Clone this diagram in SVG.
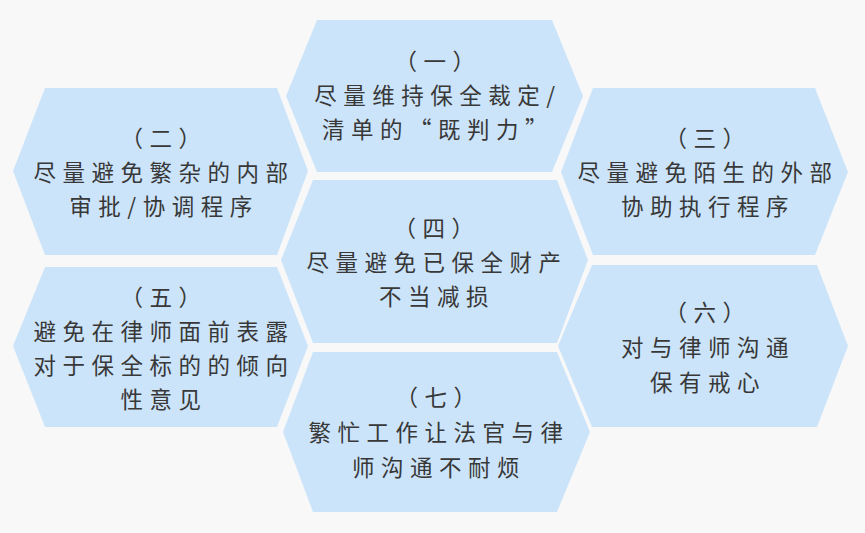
<svg xmlns="http://www.w3.org/2000/svg" width="865" height="533" viewBox="0 0 865 533">
<style>
.hex{fill:#cce4fa;}
.t{font-family:"Noto Sans CJK SC","Noto Sans",sans-serif;font-size:22.5px;fill:#383838;text-anchor:middle;letter-spacing:6.5px;}
</style>
<rect width="865" height="533" fill="#f8f8f8"/>
<g id="connectors"></g>
<g id="n1">
<polygon class="hex" points="317,20 552,20 583,96 552,172 317,172 286,96"/>
<text class="t" x="438" y="69.5">（一）</text>
<text class="t" x="438" y="103.5">尽量维持保全裁定/</text>
<text class="t" x="438" y="137.5">清单的“既判力”</text>
</g>
<g id="n2">
<polygon class="hex" points="45,88 277,88 308,171 277,255 45,255 13,171"/>
<text class="t" x="164" y="146.5">（二）</text>
<text class="t" x="164" y="180.5">尽量避免繁杂的内部</text>
<text class="t" x="164" y="214.5">审批/协调程序</text>
</g>
<g id="n3">
<polygon class="hex" points="593,88 815,88 848,172 815,255 593,255 561,172"/>
<text class="t" x="708" y="146.5">（三）</text>
<text class="t" x="708" y="180.5">尽量避免陌生的外部</text>
<text class="t" x="708" y="214.5">协助执行程序</text>
</g>
<g id="n4">
<polygon class="hex" points="313,180 557,180 588,260 557,343 313,343 281,260"/>
<text class="t" x="437" y="236.5">（四）</text>
<text class="t" x="437" y="270.5">尽量避免已保全财产</text>
<text class="t" x="437" y="304.5">不当减损</text>
</g>
<g id="n5">
<polygon class="hex" points="45,267 277,267 308,346 277,427 45,427 13,346"/>
<text class="t" x="164" y="305.5">（五）</text>
<text class="t" x="164" y="339.5">避免在律师面前表露</text>
<text class="t" x="164" y="373.5">对于保全标的的倾向</text>
<text class="t" x="164" y="407.5">性意见</text>
</g>
<g id="n6">
<polygon class="hex" points="592,265 817,265 848,346 817,427 592,427 558,346"/>
<text class="t" x="708" y="320.5">（六）</text>
<text class="t" x="708" y="355.5">对与律师沟通</text>
<text class="t" x="708" y="390.5">保有戒心</text>
</g>
<g id="n7">
<polygon class="hex" points="313,352 557,352 590,432 557,512 313,512 283,432"/>
<text class="t" x="439" y="405.5">（七）</text>
<text class="t" x="439" y="440.5">繁忙工作让法官与律</text>
<text class="t" x="439" y="475.5">师沟通不耐烦</text>
</g>
</svg>
